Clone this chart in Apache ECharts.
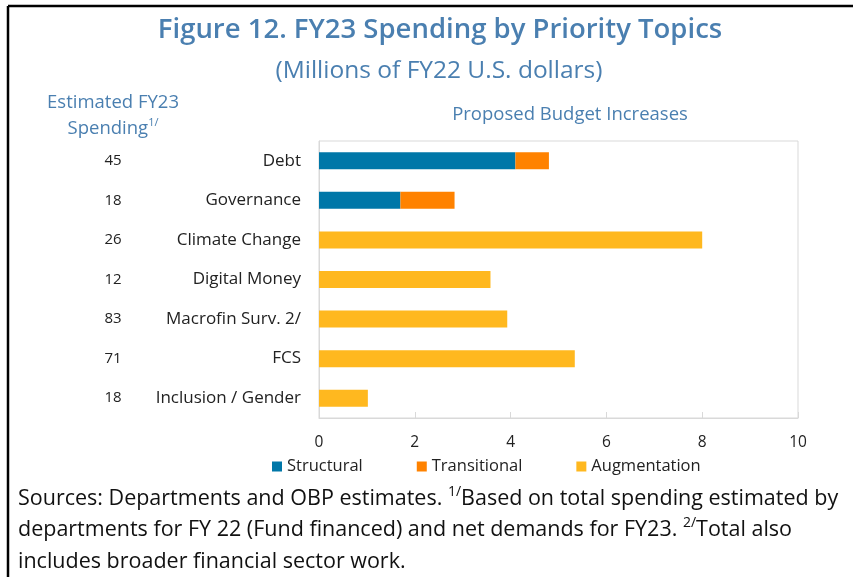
<!DOCTYPE html>
<html><head><meta charset="utf-8">
<script src="https://cdn.jsdelivr.net/npm/echarts@6/dist/echarts.min.js"></script>
<style>html,body{margin:0;padding:0;background:#fff}#c{width:856px;height:577px}</style>
</head><body><div id="c"></div>
<script>
const categories = ['Debt','Governance','Climate Change','Digital Money','Macrofin Surv. 2/','FCS','Inclusion / Gender'];
const spendingFY23 = [45,18,26,12,83,71,18];
const structural = [4.1,1.7,0,0,0,0,0];
const transitional = [0.7,1.13,0,0,0,0,0];
const augmentation = [0,0,8.0,3.58,3.93,5.34,1.02];
const xTicks = [0,2,4,6,8,10];

const FONT = '"Open Sans", "Noto Sans", sans-serif';
const BLUE = '#4a7fb0';
const chart = echarts.init(document.getElementById('c'), null, {renderer:'canvas'});
const cats = categories.slice().reverse();
const rev = a => a.slice().reverse();
function barSeries(name, data, color){
  return {name, type:'bar', stack:'t', data:rev(data), barWidth:17,
    itemStyle:{color}, emphasis:{disabled:true}, silent:true};
}
chart.setOption({
  animation:false,
  textStyle:{fontFamily:FONT},
  title:[
    {text:'Figure 12. FY23 Spending by Priority Topics', left:435, top:11, textAlign:'center',
     textStyle:{fontFamily:FONT, fontSize:27.5, fontWeight:600, color:BLUE}},
    {text:'(Millions of FY22 U.S. dollars)', left:434, top:54, textAlign:'center',
     textStyle:{fontFamily:FONT, fontSize:24.5, fontWeight:'normal', color:BLUE}},
    {text:'Proposed Budget Increases', left:565, top:100, textAlign:'center',
     textStyle:{fontFamily:FONT, fontSize:18.5, fontWeight:'normal', color:BLUE}}
  ],
  legend:{left:267, top:453, itemWidth:10, itemHeight:10, itemGap:54, icon:'rect',
    textStyle:{fontFamily:FONT, fontSize:16.5, color:'#222'},
    data:['Structural','Transitional','Augmentation']},
  grid:{left:319, right:58, top:141, bottom:159, show:true, borderColor:'#d9d9d9', borderWidth:1},
  xAxis:{type:'value', min:0, max:10, interval:2,
    axisLine:{show:true, lineStyle:{color:'#d9d9d9'}},
    axisTick:{show:true, inside:true, length:6, lineStyle:{color:'#d9d9d9'}},
    splitLine:{show:false},
    axisLabel:{fontFamily:FONT, fontSize:15.5, color:'#222', margin:17,
      formatter:v => xTicks.includes(v) ? String(v) : ''}},
  yAxis:[
    {type:'category', data:cats, position:'left',
     axisLine:{show:true, lineStyle:{color:'#d9d9d9'}}, axisTick:{show:false},
     axisLabel:{fontFamily:FONT, fontSize:17, color:'#222', margin:18}},
    {type:'category', data:cats, position:'left', offset:198,
     axisLine:{show:false}, axisTick:{show:false},
     axisLabel:{fontFamily:FONT, fontSize:15, color:'#222', margin:8, align:'center',
       formatter:(v, i) => String(rev(spendingFY23)[i])}}
  ],
  series:[
    barSeries('Structural', structural, '#0077a8'),
    barSeries('Transitional', transitional, '#ff8200'),
    barSeries('Augmentation', augmentation, '#ffb81f'),
    {type:'bar', yAxisIndex:1, data:[], silent:true}
  ],
  graphic:[
    {type:'line', shape:{x1:8, y1:6, x2:853, y2:6}, style:{stroke:'#000', lineWidth:2.5}},
    {type:'line', shape:{x1:8, y1:6, x2:8, y2:577}, style:{stroke:'#000', lineWidth:2.5}},
    {type:'text', x:113, y:93, style:{text:'Estimated FY23', fontFamily:FONT, fontSize:18.5, fill:BLUE, align:'center'}},
    {type:'text', x:113, y:117, style:{
      text:'{a|Spending}{s|1/}', align:'center', fill:BLUE,
      rich:{a:{fontFamily:FONT, fontSize:18.5, fill:BLUE}, s:{fontFamily:FONT, fontSize:11, fill:BLUE, padding:[0,0,12,0]}}}},
    {type:'text', x:18, y:483, style:{
      text:'{a|Sources: Departments and OBP estimates. }{s|1/}{a|Based on total spending estimated by}\n{a|departments for FY 22 (Fund financed) and net demands for FY23. }{s|2/}{a|Total also}\n{a|includes broader financial sector work.}',
      lineHeight:31.5, fill:'#111',
      rich:{a:{fontFamily:FONT, fontSize:21.5, fill:'#111', lineHeight:31.5}, s:{fontFamily:FONT, fontSize:14, fill:'#111', lineHeight:31.5, padding:[0,0,14,0]}}}}
  ]
});
</script></body></html>
